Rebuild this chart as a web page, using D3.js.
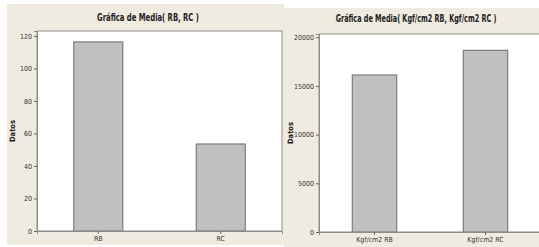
<!DOCTYPE html>
<html>
<head>
<meta charset="utf-8">
<script src="https://cdn.jsdelivr.net/npm/d3@7"></script>
<style>
    body { margin: 0; background: #fff; }
    svg { display: block; }
    text { font-family: "Liberation Sans Narrow", "DejaVu Sans Condensed", sans-serif; }
</style>
</head>
<body>
<div id="chart"></div>
<script>
// values
const leftCategories = ["RB", "RC"];
const leftMeans = [116.3, 53.5];
const leftTicks = [0, 20, 40, 60, 80, 100, 120];

const rightCategories = ["Kgf/cm2 RB", "Kgf/cm2 RC"];
const rightMeans = [16120, 18650];
const rightTicks = [0, 5000, 10000, 15000, 20000];

const width = 539, height = 247;

const svg = d3.select("#chart")
    .append("svg")
        .attr("width", width)
        .attr("height", height);

function drawPanel(p) {
    let g = svg.append("g");

    // panel background
    g.append("rect")
        .attr("x", p.box[0])
        .attr("y", p.box[1])
        .attr("width", p.box[2] - p.box[0])
        .attr("height", p.box[3] - p.box[1])
        .attr("fill", "#efebe1");

    // plot area
    g.append("rect")
        .attr("x", p.plot[0])
        .attr("y", p.plot[1])
        .attr("width", p.plot[2] - p.plot[0])
        .attr("height", p.plot[3] - p.plot[1])
        .attr("fill", "#fff")
        .attr("stroke", "#8c8c8c")
        .attr("stroke-width", 1);

    const x = d3.scaleBand()
        .domain(p.categories)
        .range([p.plot[0], p.plot[2]])
        .paddingInner(0.6)
        .paddingOuter(0.3);

    const y = d3.scaleLinear()
        .domain([0, p.yMax])
        .range([p.plot[3], p.plot[1]]);

    g.selectAll("rect.bar")
        .data(p.values)
        .enter()
        .append("rect")
            .attr("class", "bar")
            .attr("x", (d, i) => x(p.categories[i]))
            .attr("y", d => y(d))
            .attr("width", x.bandwidth())
            .attr("height", d => y(0) - y(d))
            .attr("fill", "#c0c0c0")
            .attr("stroke", "#7c7c7c")
            .attr("stroke-width", 1.2);

    const yAxis = d3.axisLeft(y)
        .tickValues(p.ticks)
        .tickFormat(d3.format("d"))
        .tickSize(3)
        .tickPadding(2);
    const xAxis = d3.axisBottom(x)
        .tickSize(3)
        .tickPadding(2);

    let ya = g.append("g")
        .attr("transform", "translate(" + p.plot[0] + ",0)")
        .call(yAxis);
    let xa = g.append("g")
        .attr("transform", "translate(0," + p.plot[3] + ")")
        .call(xAxis);

    [ya, xa].forEach(a => {
        a.select(".domain").attr("stroke", "#8c8c8c");
        a.selectAll(".tick line").attr("stroke", "#666");
        a.selectAll(".tick text")
            .attr("fill", "#333")
            .style("font-size", "7px");
    });

    // Minitab titles use a narrow font: squeeze horizontally to the measured width
    let title = g.append("text")
        .attr("text-anchor", "middle")
        .style("font-size", "10px")
        .style("font-weight", "bold")
        .attr("fill", "#222")
        .text(p.title);
    const k = p.titleWidth / title.node().getComputedTextLength();
    title.attr("transform", "translate(" + p.titleX + "," + p.titleY + ") scale(" + k + ",1)");

    g.append("text")
        .attr("transform", "translate(" + p.labelX + "," + (p.plot[1] + p.plot[3]) / 2 + ") rotate(-90)")
        .attr("text-anchor", "middle")
        .style("font-size", "7.5px")
        .style("font-weight", "bold")
        .attr("fill", "#222")
        .text("Datos");
}

// right panel first so the left one sits on top
drawPanel({
    box: [284, 8, 539, 247],
    plot: [319, 34, 541, 232],
    categories: rightCategories,
    values: rightMeans,
    ticks: rightTicks,
    yMax: 20330,
    title: "Gráfica de Media( Kgf/cm2 RB, Kgf/cm2 RC )",
    titleWidth: 161,
    titleX: 416,
    titleY: 22,
    labelX: 293
});

drawPanel({
    box: [7, 4, 284, 245],
    plot: [37, 31, 282, 231],
    categories: leftCategories,
    values: leftMeans,
    ticks: leftTicks,
    yMax: 123,
    title: "Gráfica de Media( RB, RC )",
    titleWidth: 102,
    titleX: 148,
    titleY: 21,
    labelX: 15
});
</script>
</body>
</html>
